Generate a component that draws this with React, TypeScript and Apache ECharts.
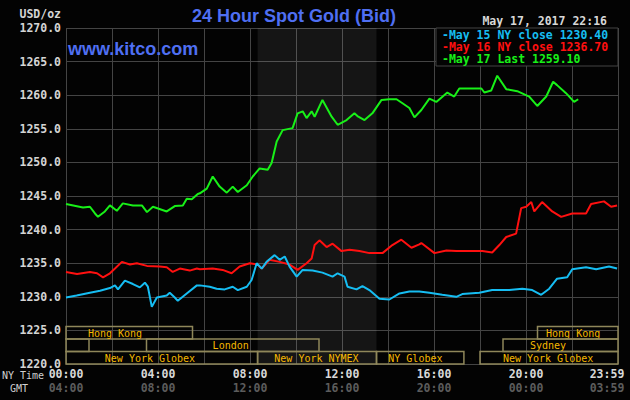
import React, { useEffect, useRef } from "react";
import * as echarts from "echarts";

// ---- data ----
const seriesNames = ["May 15 NY close", "May 16 NY close", "May 17 Last"];
const lastValues = ["1230.40", "1236.70", "1259.10"];
const seriesColors = ["#16bdf2", "#ff1010", "#18f018"];

// [NY time in hours, price]
const may15: number[][] = [
  [0, 1229.9], [0.46, 1230.2], [1.04, 1230.6], [1.48, 1230.9], [1.91, 1231.3], [2.13, 1231.7], [2.26, 1231.1],
  [2.56, 1232.4], [2.91, 1231.9], [3.21, 1231.4], [3.43, 1232.1], [3.56, 1231.5], [3.73, 1228.5], [3.95, 1229.9],
  [4.38, 1230.2], [4.51, 1230.6], [4.73, 1229.9], [4.86, 1229.4], [5.25, 1230.5], [5.69, 1231.7], [5.82, 1231.7],
  [6.25, 1231.5], [6.55, 1231.2], [6.9, 1231.1], [7.25, 1231.5], [7.47, 1231.0], [7.86, 1231.5], [8.07, 1232.5],
  [8.29, 1235.0], [8.51, 1234.2], [8.72, 1235.2], [9.07, 1236.2], [9.29, 1235.5], [9.51, 1236.0], [9.72, 1234.5],
  [10.03, 1233.0], [10.29, 1234.0], [10.72, 1233.9], [11.15, 1233.6], [11.59, 1233.0], [11.81, 1233.5],
  [12.11, 1233.0], [12.24, 1231.5], [12.63, 1231.1], [12.89, 1231.6], [13.19, 1231.0], [13.63, 1229.7],
  [14.06, 1229.6], [14.5, 1230.5], [14.93, 1230.8], [15.36, 1230.8], [15.8, 1230.6], [16.36, 1230.3],
  [16.97, 1230.0], [17.23, 1230.4], [17.97, 1230.6], [18.53, 1231.0], [19.27, 1231.0], [19.84, 1231.2],
  [20.27, 1231.0], [20.66, 1230.3], [21.01, 1231.2], [21.35, 1232.7], [21.79, 1232.9], [22.01, 1234.1],
  [22.61, 1234.4], [23.05, 1234.1], [23.61, 1234.5], [23.96, 1234.2],
];

const may16: number[][] = [
  [0, 1233.7], [0.48, 1233.4], [1.04, 1233.7], [1.35, 1233.5], [1.61, 1232.9], [1.91, 1233.5], [2.13, 1234.2],
  [2.43, 1235.2], [2.78, 1234.8], [3.08, 1235.0], [3.52, 1234.6], [4.08, 1234.5], [4.38, 1234.4], [4.64, 1233.7],
  [4.95, 1234.2], [5.38, 1233.9], [5.69, 1234.2], [5.82, 1234.1], [6.38, 1234.2], [6.81, 1234.0], [7.2, 1233.5],
  [7.55, 1234.5], [7.99, 1235.0], [8.33, 1234.8], [8.51, 1234.2], [8.85, 1235.5], [9.29, 1235.2], [9.72, 1234.8],
  [10.07, 1234.0], [10.46, 1235.0], [10.68, 1235.7], [10.81, 1237.7], [11.02, 1238.4], [11.33, 1237.4],
  [11.59, 1237.9], [11.98, 1236.8], [12.33, 1237.0], [12.76, 1236.8], [13.19, 1236.5], [13.76, 1236.5],
  [14.19, 1237.7], [14.58, 1238.5], [15.02, 1237.3], [15.36, 1237.8], [15.45, 1238.0], [16.02, 1236.5],
  [16.54, 1236.9], [16.97, 1236.8], [18.1, 1236.8], [18.53, 1236.6], [18.84, 1237.7], [19.14, 1238.9],
  [19.57, 1239.4], [19.79, 1243.2], [20.01, 1243.4], [20.23, 1244.1], [20.36, 1242.7], [20.7, 1244.1],
  [21.14, 1242.7], [21.53, 1241.9], [22.01, 1242.4], [22.61, 1242.4], [22.83, 1243.8], [23.39, 1244.2],
  [23.7, 1243.4], [23.96, 1243.6],
];

const may17: number[][] = [
  [0, 1243.8], [0.74, 1243.3], [1.04, 1243.4], [1.26, 1242.4], [1.39, 1241.9], [1.69, 1242.7], [1.91, 1243.6],
  [2.21, 1242.8], [2.47, 1243.9], [2.91, 1243.6], [3.3, 1243.6], [3.52, 1242.6], [3.78, 1243.4], [4.38, 1242.7],
  [4.73, 1243.5], [5.08, 1243.6], [5.25, 1244.6], [5.47, 1244.5], [5.73, 1245.3], [5.82, 1245.4], [6.12, 1246.1],
  [6.38, 1247.9], [6.68, 1246.4], [6.99, 1245.5], [7.25, 1246.4], [7.47, 1245.6], [7.86, 1246.6], [8.12, 1247.9],
  [8.42, 1249.1], [8.77, 1248.9], [8.94, 1249.9], [9.16, 1253.1], [9.42, 1254.8], [9.85, 1255.1], [10.07, 1257.3],
  [10.29, 1257.6], [10.46, 1256.6], [10.68, 1257.6], [10.81, 1256.8], [11.15, 1259.3], [11.55, 1256.8],
  [11.81, 1255.6], [12.2, 1256.3], [12.54, 1257.3], [12.67, 1256.9], [12.98, 1256.3], [13.32, 1257.3],
  [13.72, 1259.3], [14.06, 1259.4], [14.37, 1259.4], [14.63, 1258.8], [14.93, 1258.1], [15.15, 1256.7],
  [15.45, 1257.8], [15.8, 1259.5], [16.1, 1259.0], [16.58, 1260.4], [16.88, 1259.8], [17.1, 1261.0],
  [18.06, 1261.0], [18.19, 1260.4], [18.49, 1260.7], [18.75, 1262.9], [19.14, 1260.9], [19.62, 1260.6],
  [20.14, 1259.8], [20.49, 1258.4], [20.88, 1259.8], [21.18, 1262.0], [21.35, 1261.5], [21.74, 1260.3],
  [22.09, 1259.0], [22.27, 1259.4],
];

// x-axis tick labels (every 4 hours)
const nyTimeLabels = ["00:00", "04:00", "08:00", "12:00", "16:00", "20:00", "23:59"];
const gmtLabels = ["04:00", "08:00", "12:00", "16:00", "20:00", "00:00", "03:59"];

// NYMEX session (shaded), hours
const nymexOpen = 8.33;
const nymexClose = 13.5;

// market sessions
const sessionNames = ["Hong Kong", "Hong Kong", "", "London", "Sydney", "New York Globex", "New York NYMEX", "NY Globex", "New York Globex"];
const sessionStart = [0, 20.5, 0, 3.5, 19.0, 0, 8.33, 13.5, 18.0];
const sessionEnd = [5.5, 24, 1.0, 11.0, 24, 8.33, 13.5, 17.3, 24];
const sessionRow = [0, 0, 1, 1, 1, 2, 2, 2, 2];
const sessionLabelAt = [2.13, 22.05, 0.5, 7.16, 20.96, 3.65, 10.89, 15.19, 20.96];

const MONO = '"DejaVu Sans Mono", monospace';
const SANS = '"Liberation Sans", Arial, sans-serif';
const BLUE = "#4f6ff2";

export default function App() {
  const ref = useRef<HTMLDivElement>(null);
  useEffect(() => {
    if (!ref.current) return;
    const chart = echarts.init(ref.current, undefined, { renderer: "svg" });
    const sessionData = sessionStart.map((s, i) => [s, sessionEnd[i], sessionRow[i], sessionLabelAt[i]]);
    const lines = [may17, may16, may15];
    const order = [2, 1, 0];
    const option: any = {
      animation: false,
      backgroundColor: "#030303",
      grid: { left: 66, right: 12, top: 28, bottom: 36, containLabel: false, outerBoundsMode: "none" },
      xAxis: {
        type: "value",
        min: 0,
        max: 24,
        interval: 2,
        axisLine: { show: false },
        axisTick: { show: false },
        splitLine: { show: true, lineStyle: { color: "#444", width: 1 } },
        axisLabel: {
          margin: 3,
          showMinLabel: true,
          showMaxLabel: true,
          formatter: (v: number) => {
            if (v === 24) return `{a2|${nyTimeLabels[6]}}\n{b2|${gmtLabels[6]}}`;
            if (v % 4 !== 0) return "";
            const i = v / 4;
            return `{a|${nyTimeLabels[i]}}\n{b|${gmtLabels[i]}}`;
          },
          rich: {
            a: { color: "#d8d8d8", fontFamily: MONO, fontWeight: "bold", fontSize: 11.5, lineHeight: 14 },
            b: { color: "#5c5c5c", fontFamily: MONO, fontWeight: "bold", fontSize: 11.5, lineHeight: 14 },
            a2: { color: "#d8d8d8", fontFamily: MONO, fontWeight: "bold", fontSize: 11.5, lineHeight: 14, padding: [0, 22, 0, 0] },
            b2: { color: "#5c5c5c", fontFamily: MONO, fontWeight: "bold", fontSize: 11.5, lineHeight: 14, padding: [0, 22, 0, 0] },
          },
        },
      },
      yAxis: {
        type: "value",
        min: 1220,
        max: 1270,
        interval: 5,
        axisLine: { show: false },
        axisTick: { show: false },
        splitLine: { show: true, lineStyle: { color: "#444", width: 1 } },
        axisLabel: {
          margin: 5,
          color: "#d4d4d4",
          fontFamily: MONO,
          fontWeight: "bold",
          fontSize: 11.5,
          lineHeight: 11,
          formatter: (v: number) => v.toFixed(1),
        },
      },
      series: [
        {
          type: "line",
          data: [],
          z: -1,
          silent: true,
          markArea: {
            silent: true,
            itemStyle: { color: "rgba(255,255,255,0.075)" },
            data: [[{ xAxis: nymexOpen }, { xAxis: nymexClose }]],
          },
        },
        {
          type: "custom",
          silent: true,
          data: sessionData,
          renderItem: (params: any, api: any) => {
            const s = api.value(0);
            const e = api.value(1);
            const row = api.value(2);
            const lab = api.value(3);
            const p0 = api.coord([s, 1220]);
            const p1 = api.coord([e, 1220]);
            const pl = api.coord([lab, 1220]);
            const rowH = 12.5;
            const y = p0[1] - (3 - row) * rowH;
            return {
              type: "group",
              children: [
                {
                  type: "rect",
                  shape: { x: p0[0], y: y, width: p1[0] - p0[0], height: rowH },
                  style: { fill: "none", stroke: "#8f875a", lineWidth: 1.5 },
                },
                {
                  type: "text",
                  x: pl[0],
                  y: y + rowH / 2 + 0.5,
                  style: {
                    text: sessionNames[params.dataIndex],
                    fill: "#f5b800",
                    font: `10px ${MONO}`,
                    lineHeight: 11,
                    textAlign: "center",
                    textVerticalAlign: "middle",
                  },
                },
              ],
            };
          },
        },
        ...order.map((idx, k) => ({
          type: "line",
          name: seriesNames[idx],
          data: lines[k],
          showSymbol: false,
          symbol: "none",
          lineStyle: { color: seriesColors[idx], width: 2 },
          z: 3 + k,
        })),
      ],
      graphic: [
        {
          type: "text",
          x: 294,
          y: 16,
          z: 100,
          style: { text: "24 Hour Spot Gold (Bid)", fill: BLUE, font: `bold 18px ${SANS}`, textAlign: "center", textVerticalAlign: "middle" },
        },
        {
          type: "text",
          x: 68,
          y: 48.5,
          z: 100,
          style: { text: "www.kitco.com", fill: BLUE, font: `bold 18px ${SANS}`, textAlign: "left", textVerticalAlign: "middle" },
        },
        {
          type: "text",
          x: 61,
          y: 14,
          z: 100,
          style: { text: "USD/oz", fill: "#d4d4d4", font: `bold 11.5px ${MONO}`, textAlign: "right", textVerticalAlign: "middle" },
        },
        {
          type: "text",
          x: 607,
          y: 21,
          z: 100,
          style: { text: "May 17, 2017 22:16", fill: "#d8d8d8", font: `bold 11.5px ${MONO}`, textAlign: "right", textVerticalAlign: "middle" },
        },
        {
          type: "rect",
          z: 100,
          shape: { x: 436, y: 28, width: 182, height: 38 },
          style: { fill: "#030303", stroke: "#444", lineWidth: 1 },
        },
        ...seriesNames.map((n, i) => ({
          type: "text",
          x: 442,
          y: 34.5 + i * 12,
          z: 101,
          style: {
            text: `-${n} ${lastValues[i]}`,
            fill: seriesColors[i],
            font: `bold 11.5px ${MONO}`,
            lineHeight: 11,
            textAlign: "left",
            textVerticalAlign: "middle",
          },
        })),
        {
          type: "text",
          x: 23,
          y: 375.5,
          z: 100,
          style: { text: "NY Time", fill: "#d0d0d0", font: `10px ${MONO}`, lineHeight: 10, textAlign: "center", textVerticalAlign: "middle" },
        },
        {
          type: "text",
          x: 19,
          y: 388.5,
          z: 100,
          style: { text: "GMT", fill: "#d0d0d0", font: `10px ${MONO}`, lineHeight: 10, textAlign: "center", textVerticalAlign: "middle" },
        },
      ],
    };
    chart.setOption(option);
    return () => chart.dispose();
  }, []);
  return <div ref={ref} style={{ position: "fixed", left: 0, top: 0, width: 630, height: 400 }} />;
}
